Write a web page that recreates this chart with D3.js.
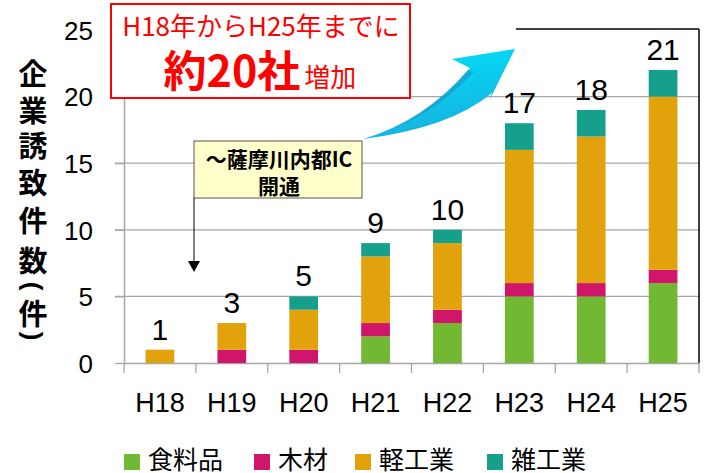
<!DOCTYPE html>
<html>
<head>
<meta charset="utf-8">
<script src="https://cdn.jsdelivr.net/npm/d3@7"></script>
<style>
  body { margin: 0; background: #fff; }
  svg { display: block; }
</style>
</head>
<body>
<svg id="drawing_region"></svg>
<script>
// data
const categories = ["H18", "H19", "H20", "H21", "H22", "H23", "H24", "H25"];
const food  = [0, 0, 0, 2, 3, 5, 5, 6];    // 食料品
const wood  = [0, 1, 1, 1, 1, 1, 1, 1];    // 木材
const light = [1, 2, 3, 5, 5, 10, 11, 13]; // 軽工業
const misc  = [0, 0, 1, 1, 1, 2, 2, 2];    // 雑工業
const totalLabels = ["1", "3", "5", "9", "10", "17", "18", "21"];
const yTicks = [0, 5, 10, 15, 20, 25];
const seriesNames = ["食料品", "木材", "軽工業", "雑工業"];
const seriesColors = ["#72b832", "#d0166a", "#e1a20b", "#169f8b"];

const config = {
    width: 713,
    height: 473,
    left: 124, right: 699, top: 30, bottom: 363
};

const svg = d3.select('#drawing_region')
    .attr('width', config.width)
    .attr('height', config.height);

const table = categories.map((c, i) => ({
    cat: c, "食料品": food[i], "木材": wood[i], "軽工業": light[i], "雑工業": misc[i],
    label: totalLabels[i]
}));

const stack = d3.stack().keys(seriesNames)(table);

const xscale = d3.scaleBand()
    .domain(categories)
    .range([config.left, config.right])
    .paddingInner(0.6)
    .paddingOuter(0.3);

const yscale = d3.scaleLinear()
    .domain([0, 25])
    .range([config.bottom, config.top]);

// gridlines
const grid = svg.append('g');
grid.selectAll('line')
    .data(yTicks.filter(t => t > 0 && t < 25))
    .join('line')
    .attr('x1', config.left - 9).attr('x2', config.right)
    .attr('y1', d => yscale(d)).attr('y2', d => yscale(d))
    .attr('stroke', '#a6a6a6').attr('stroke-width', 1.3);

// frame (top + right, black)
svg.append('line')
    .attr('x1', 516).attr('x2', config.right)
    .attr('y1', yscale(25) - 1).attr('y2', yscale(25) - 1)
    .attr('stroke', '#000').attr('stroke-width', 1.5);
svg.append('line')
    .attr('x1', config.right).attr('x2', config.right)
    .attr('y1', yscale(25) - 1).attr('y2', config.bottom)
    .attr('stroke', '#000').attr('stroke-width', 1.5);

// y axis
const yaxis = d3.axisLeft(yscale).tickValues(yTicks).tickSize(9).tickSizeOuter(0).tickPadding(6);
const yg = svg.append('g')
    .attr('transform', `translate(${config.left},0)`)
    .call(yaxis);
yg.select('.domain').attr('stroke', '#a6a6a6').attr('stroke-width', 1.5);
yg.selectAll('.tick line').attr('stroke', '#a6a6a6').attr('stroke-width', 1.3);
yg.selectAll('.tick text')
    .attr('font-family', '"Liberation Sans", Arial, sans-serif')
    .attr('font-size', '26px')
    .attr('fill', '#000')
    .attr('dy', '0.36em')
    .attr('x', -31);

// x axis
const xaxis = d3.axisBottom(xscale).tickSize(0).tickSizeOuter(0).tickPadding(30);
const xg = svg.append('g')
    .attr('transform', `translate(0,${config.bottom})`)
    .call(xaxis);
xg.select('.domain').attr('stroke', '#a6a6a6').attr('stroke-width', 1.5);
xg.selectAll('.tick text')
    .attr('font-family', '"Liberation Sans", Arial, sans-serif')
    .attr('font-size', '27px')
    .attr('fill', '#000');
// category boundary ticks
svg.append('g').selectAll('line')
    .data(categories.concat(["end"]))
    .join('line')
    .attr('x1', (d, i) => config.left + i * xscale.step())
    .attr('x2', (d, i) => config.left + i * xscale.step())
    .attr('y1', config.bottom).attr('y2', config.bottom + 10)
    .attr('stroke', '#a6a6a6').attr('stroke-width', 1.3);

// stacked bars
svg.append('g').selectAll('g')
    .data(stack)
    .join('g')
    .attr('fill', (d, i) => seriesColors[i])
    .selectAll('rect')
    .data(d => d)
    .join('rect')
    .attr('x', d => xscale(d.data.cat))
    .attr('width', xscale.bandwidth())
    .attr('y', d => yscale(d[1]))
    .attr('height', d => yscale(d[0]) - yscale(d[1]));

// value labels
svg.append('g').selectAll('text')
    .data(table)
    .join('text')
    .attr('x', d => xscale(d.cat) + xscale.bandwidth() / 2)
    .attr('y', d => yscale(d["食料品"] + d["木材"] + d["軽工業"] + d["雑工業"]) - 10)
    .attr('text-anchor', 'middle')
    .attr('font-family', '"Liberation Sans", Arial, sans-serif')
    .attr('font-size', '30px')
    .attr('fill', '#000')
    .text(d => d.label);

// y axis title (vertical, parentheses turned)
const titleChars = ["企", "業", "誘", "致", "件", "数", "(", "件", ")"];
const titleY = [72, 109, 144, 181, 219, 259, 286, 312, 336];
svg.append('g').selectAll('text')
    .data(titleChars)
    .join('text')
    .attr('transform', (d, i) => `translate(33,${titleY[i]})` + ((d === "(" || d === ")") ? ' rotate(90)' : ''))
    .attr('text-anchor', 'middle')
    .attr('dominant-baseline', 'central')
    .attr('font-family', d => (d === "(" || d === ")") ? '"Liberation Sans", sans-serif' : '"Noto Sans CJK JP", sans-serif')
    .attr('font-weight', 'bold')
    .attr('font-size', d => (d === "(" || d === ")") ? '26px' : '29px')
    .attr('fill', '#000')
    .text(d => d);

// legend
const legendX = [124, 254, 355, 487];
const legend = svg.append('g').selectAll('g')
    .data(seriesNames)
    .join('g')
    .attr('transform', (d, i) => `translate(${legendX[i]},454)`);
legend.append('rect')
    .attr('width', 16).attr('height', 16)
    .attr('fill', (d, i) => seriesColors[i]);
legend.append('text')
    .attr('x', 24).attr('y', 4)
    .attr('dominant-baseline', 'central')
    .attr('font-family', '"Noto Sans CJK JP", sans-serif')
    .attr('font-size', '25px')
    .attr('fill', '#000')
    .text(d => d);

// blue arrow
const defs = svg.append('defs');
const grad = defs.append('linearGradient')
    .attr('id', 'arrowGrad')
    .attr('x1', '0').attr('y1', '0').attr('x2', '0.3').attr('y2', '1');
grad.append('stop').attr('offset', '0%').attr('stop-color', '#00e4fa');
grad.append('stop').attr('offset', '100%').attr('stop-color', '#16b2e0');
svg.append('path')
    .attr('d', 'M363,139 Q425,122 470,68 L452,59 L515,49 L489,101 L492,93 Q450,128 363,139 Z')
    .attr('fill', 'url(#arrowGrad)');
svg.append('path')
    .attr('d', 'M366,138 Q424,120 468,70 L474,72 Q430,120 366,138 Z')
    .attr('fill', '#1a93c8').attr('opacity', 0.6);

// yellow note box
svg.append('rect')
    .attr('x', 194).attr('y', 141).attr('width', 168).attr('height', 57)
    .attr('fill', '#ffffcc').attr('stroke', '#555').attr('stroke-width', 1);
svg.append('text')
    .attr('x', 279).attr('y', 167)
    .attr('text-anchor', 'middle')
    .attr('font-family', '"Noto Sans CJK JP", sans-serif')
    .attr('font-weight', 'bold').attr('font-size', '21px')
    .text('～薩摩川内都IC');
svg.append('text')
    .attr('x', 279).attr('y', 194)
    .attr('text-anchor', 'middle')
    .attr('font-family', '"Noto Sans CJK JP", sans-serif')
    .attr('font-weight', 'bold').attr('font-size', '21px')
    .text('開通');
svg.append('line')
    .attr('x1', 194).attr('x2', 194).attr('y1', 198).attr('y2', 262)
    .attr('stroke', '#000').attr('stroke-width', 1);
svg.append('path')
    .attr('d', 'M188,261 L200,261 L194,272 Z')
    .attr('fill', '#000');

// red callout box
svg.append('rect')
    .attr('x', 111).attr('y', 4).attr('width', 299).attr('height', 94)
    .attr('fill', '#fff').attr('stroke', '#ff0000').attr('stroke-width', 2);
svg.append('text')
    .attr('x', 261).attr('y', 36)
    .attr('text-anchor', 'middle')
    .attr('font-family', '"Noto Sans CJK JP", sans-serif')
    .attr('font-size', '26px').attr('fill', '#ff0000')
    .text('H18年からH25年までに');
const line2 = svg.append('text')
    .attr('x', 260).attr('y', 87)
    .attr('text-anchor', 'middle')
    .attr('font-family', '"Noto Sans CJK JP", sans-serif')
    .attr('fill', '#ff0000');
line2.append('tspan').attr('font-weight', 'bold').attr('font-size', '43px').text('約20社');
line2.append('tspan').attr('font-size', '26px').attr('dx', 4).text('増加');
</script>
</body>
</html>
